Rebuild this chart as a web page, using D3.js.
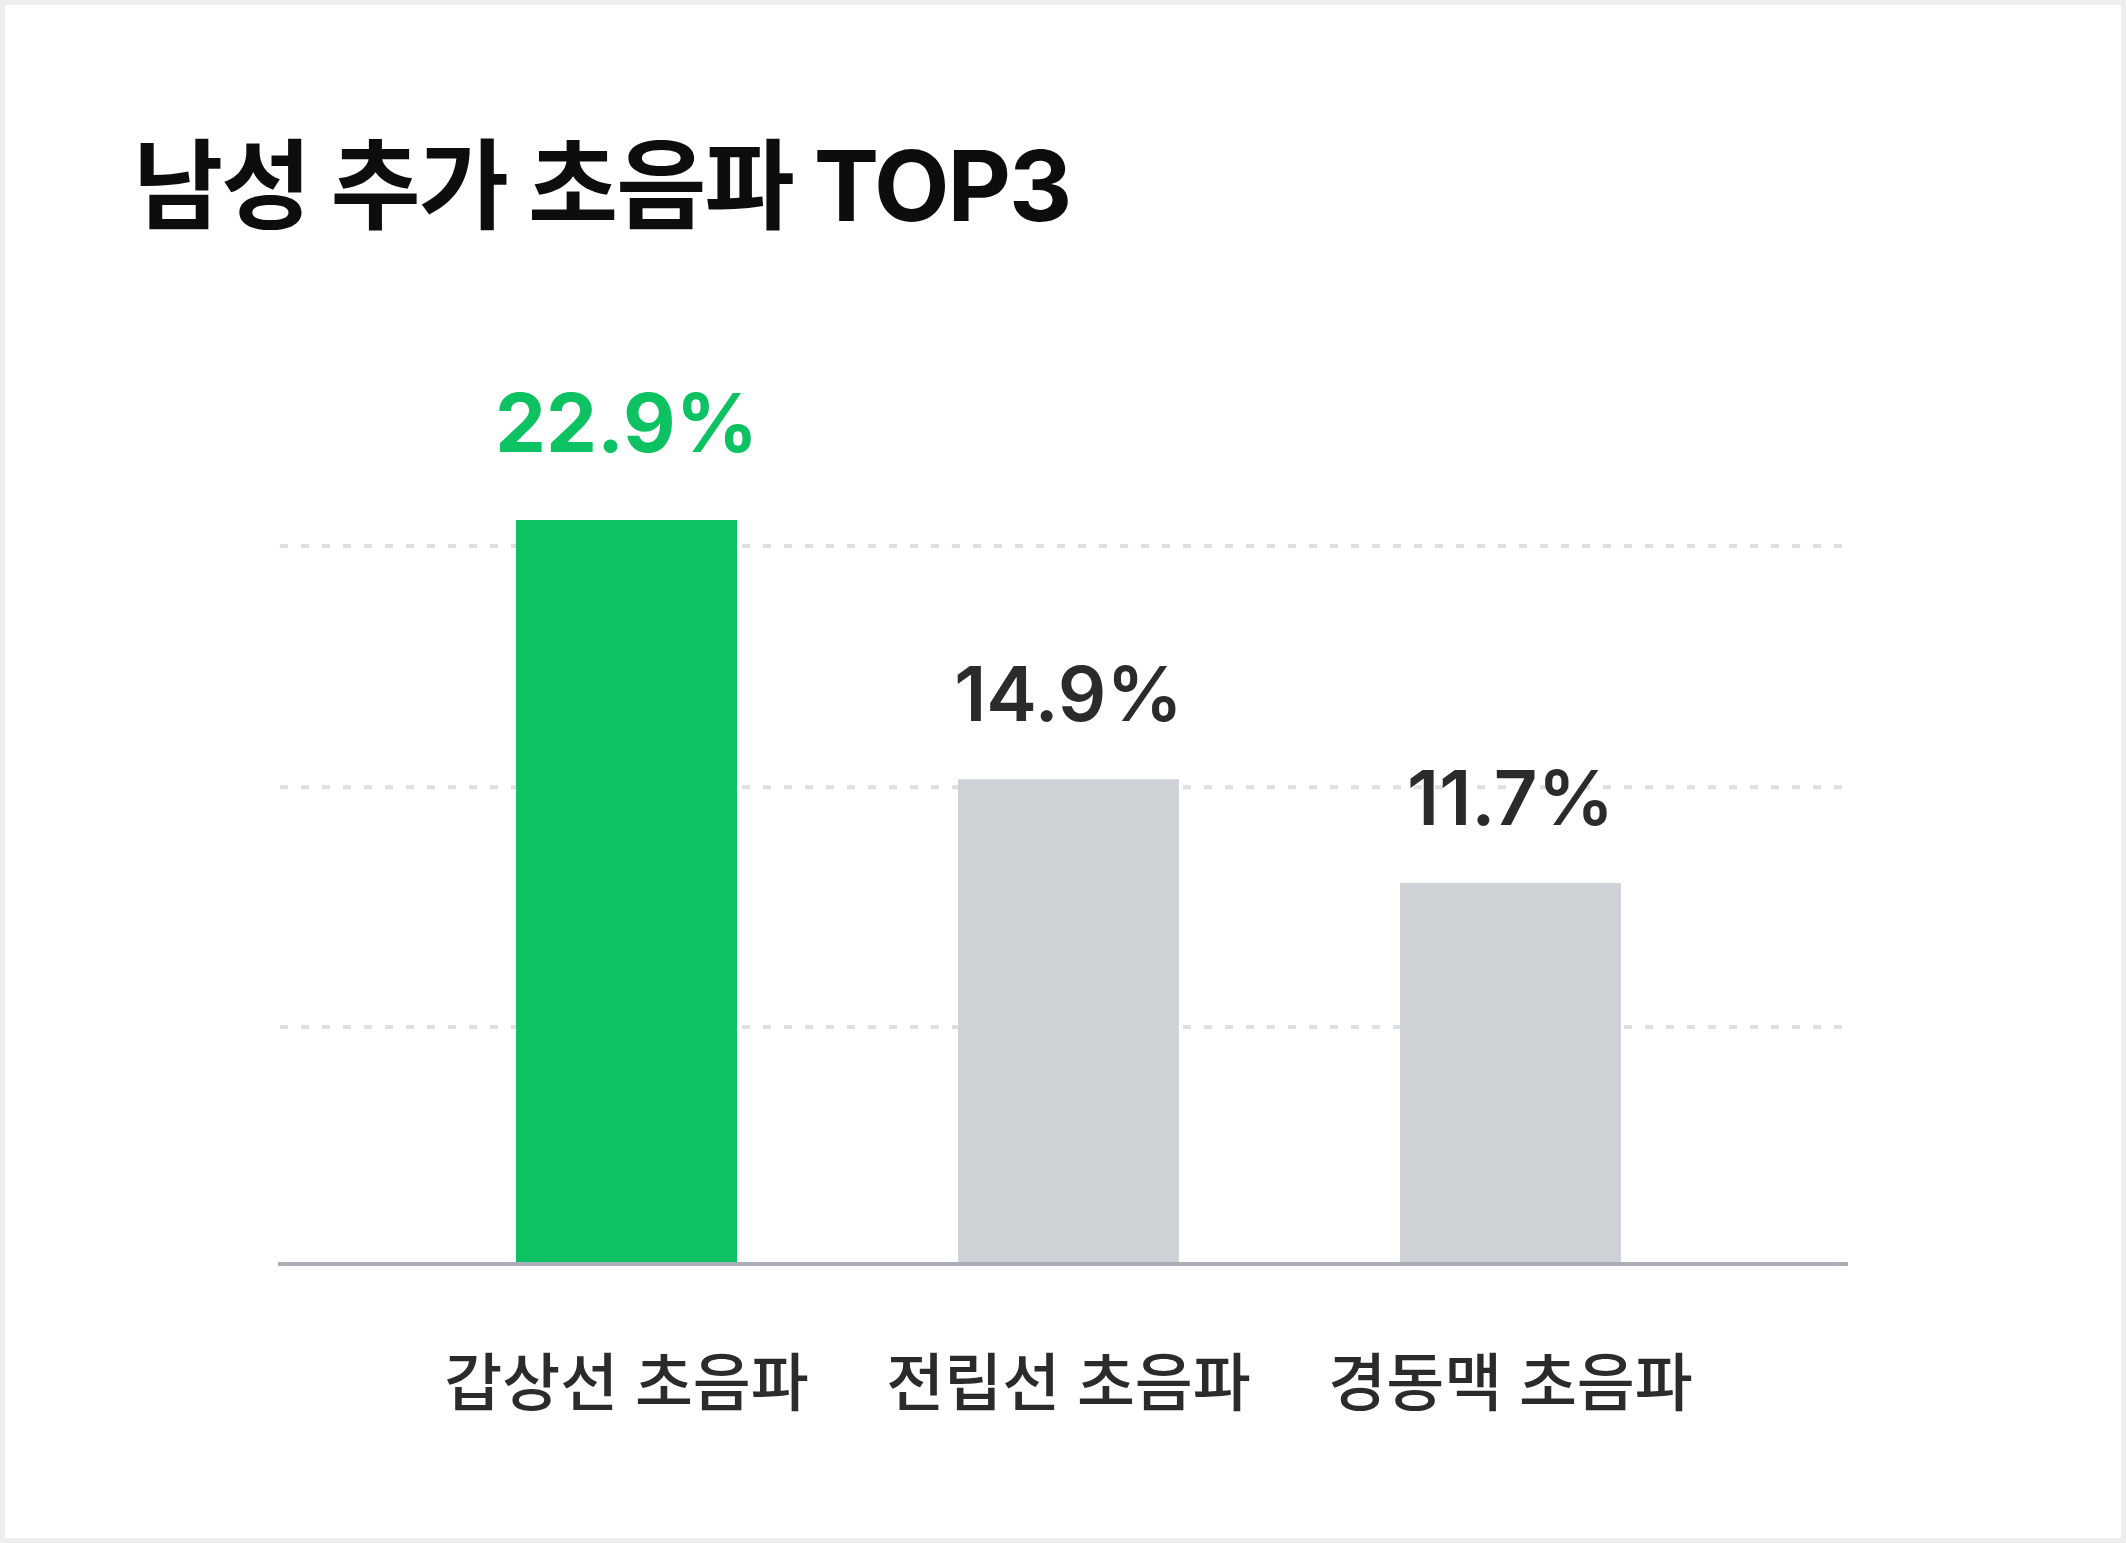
<!DOCTYPE html>
<html lang="ko">
<head>
    <meta charset="UTF-8">
    <title>남성 추가 초음파 TOP3</title>
    <script src="https://d3js.org/d3.v7.min.js"></script>
    <style>
        body {margin: 0; background: #fff;}
        text {
            font-family: "Inter", "Noto Sans CJK KR", sans-serif;
        }
    </style>
</head>
<body>
<script>
    // data
    const title = "남성 추가 초음파 TOP3";
    const categories = ["갑상선 초음파", "전립선 초음파", "경동맥 초음파"];
    const values = [22.9, 14.9, 11.7];
    const valueLabels = ["22.9%", "14.9%", "11.7%"];
    const gridValues = [7.25, 14.65, 22.1];
    const highlight = "갑상선 초음파";

    const width = 2126;
    const height = 1543;
    const baseY = 1262;
    const topY = 520;

    const svg = d3.select("body").append("svg")
            .attr("width", width).attr("height", height);

    // card frame
    svg.append("rect")
            .attr("x", 2.5).attr("y", 2.5)
            .attr("width", width - 5).attr("height", height - 5)
            .style("fill", "#fff")
            .style("stroke", "#eeeeee")
            .style("stroke-width", 5);

    svg.append("text")
            .attr("x", 133).attr("y", 221)
            .style("font-size", "98px")
            .style("font-weight", 700)
            .style("letter-spacing", "-2px")
            .style("fill", "#0d0d0d")
            .text(title);

    const x = d3.scaleBand()
            .domain(categories)
            .range([405.5, 1731.5])
            .paddingInner(0.5)
            .paddingOuter(0.25);

    const y = d3.scaleLinear()
            .domain([0, d3.max(values)])
            .range([baseY, topY]);

    drawGrid();
    drawBars();
    drawAxis();
    drawLabels();

    function drawGrid() {
        svg.append("g").attr("class", "grid")
                .selectAll("line")
                .data(gridValues)
                .enter()
                .append("line")
                .attr("x1", 278).attr("x2", 1848)
                .attr("y1", d => y(d)).attr("y2", d => y(d))
                .style("stroke", "#dcdfe3")
                .style("stroke-width", 4)
                .style("stroke-dasharray", "8 13")
                .style("stroke-dashoffset", -2);
    }

    function drawBars() {
        svg.append("g").attr("class", "bars")
                .selectAll("rect")
                .data(categories)
                .enter()
                .append("rect")
                .attr("x", d => x(d))
                .attr("width", x.bandwidth())
                .attr("y", (d, i) => y(values[i]))
                .attr("height", (d, i) => baseY - y(values[i]))
                .style("fill", d => d === highlight ? "#0cc262" : "#cfd2d6");
    }

    function drawAxis() {
        svg.append("line")
                .attr("x1", 278).attr("x2", 1848)
                .attr("y1", baseY + 2).attr("y2", baseY + 2)
                .style("stroke", "#a9afb7")
                .style("stroke-width", 4);
    }

    function drawLabels() {
        svg.append("g").attr("class", "values")
                .selectAll("text")
                .data(categories)
                .enter()
                .append("text")
                .attr("x", d => x(d) + x.bandwidth() / 2)
                .attr("y", (d, i) => y(values[i]) - (d === highlight ? 68 : 58))
                .attr("text-anchor", "middle")
                .style("font-size", d => d === highlight ? "81px" : "76px")
                .style("font-weight", d => d === highlight ? 700 : 600)
                .style("fill", d => d === highlight ? "#0cc262" : "#2b2b2b")
                .text((d, i) => valueLabels[i]);

        svg.append("g").attr("class", "categories")
                .selectAll("text")
                .data(categories)
                .enter()
                .append("text")
                .attr("x", d => x(d) + x.bandwidth() / 2)
                .attr("y", 1405)
                .attr("text-anchor", "middle")
                .style("font-size", "63px")
                .style("font-weight", 500)
                .style("fill", "#2b2b2b")
                .text(d => d);
    }
</script>

</body>
</html>
